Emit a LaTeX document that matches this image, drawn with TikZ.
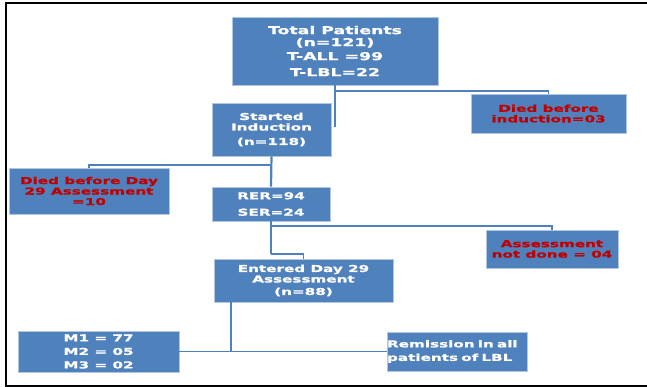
\documentclass[tikz,border=0pt]{standalone}
\usepackage{fontspec}
\usepackage{tikz}
\newfontfamily\boxfont{DejaVu Sans}[FakeStretch=1.6, FakeBold=1.2]
\definecolor{boxblue}{RGB}{79,129,189}
\definecolor{warnred}{RGB}{192,0,0}

\begin{document}
\begin{tikzpicture}[x=1pt, y=-1pt,
  box/.style={fill=boxblue, draw=boxblue!45!white, line width=0.6pt, text=white,
    font=\boxfont\bfseries\fontsize{9.5}{10.5}\selectfont, align=center, inner sep=0pt},
  redbox/.style={box, text=warnred},
  thickline/.style={draw=boxblue, line width=2.2pt},
  thinline/.style={draw=boxblue, line width=1.2pt}]
\useasboundingbox (0,0) rectangle (647,387);
% frame
\draw[line width=2.2pt] (660,3) -- (6,3) -- (6,386) -- (660,386);

% boxes
\node[box, minimum width=206, minimum height=68, font=\boxfont\bfseries\fontsize{10.8}{12}\selectfont] (total) at (335,51)
  {Total Patients\\(n=121)\\[2pt]T-ALL =99\\[4pt]T-LBL=22};
\node[box, minimum width=119, minimum height=53] (induct) at (271.5,129.5)
  {Started\\Induction\\[4pt](n=118)};
\node[redbox, minimum width=155, minimum height=39] (diedind) at (548.5,113.5)
  {Died before\\induction=03};
\node[redbox, minimum width=160, minimum height=46] (died29) at (89,191)
  {Died before Day\\29 Assessment\\=10};
\node[box, minimum width=118, minimum height=34] (rer) at (271,204)
  {RER=94\\[6pt]SER=24};
\node[redbox, minimum width=132, minimum height=38] (notdone) at (552,249)
  {Assessment\\not done = 04};
\node[box, minimum width=179, minimum height=43] (entered) at (303.5,280.5)
  {Entered Day 29\\Assessment\\[2pt](n=88)};
\node[box, minimum width=161, minimum height=41] (mbox) at (98.5,351.5)
  {M1 = 77\\[3pt]M2 = 05\\[3pt]M3 = 02};
\node[box, minimum width=140, minimum height=39, align=left, text width=140] (remis) at (457,351.5)
  {Remission in all\\[3pt]patients of LBL};

% connectors
\coordinate (j1) at (335,91);
\coordinate (e1) at (335,127);
\draw[thickline] (total.south) -- (e1);
\draw[thinline] (j1) -| (diedind.north);

\coordinate (j2) at (271.5,165);
\draw[thickline] (induct.south) -- (rer.north);
\draw[thinline] (j2) -| (died29.north);

\coordinate (j3) at (271,254);
\coordinate (j4) at (271,226);
\draw[thickline] (rer.south) -- (j3);
\draw[thinline] (j3) -| (entered.north);
\draw[thinline] (j4) -| (notdone.north);

\coordinate (j5) at (231,351);
\draw[thickline] (j5) -- (j5 |- entered.south);
\draw[thinline] (mbox.east) -- (remis.west);
\end{tikzpicture}
\end{document}
